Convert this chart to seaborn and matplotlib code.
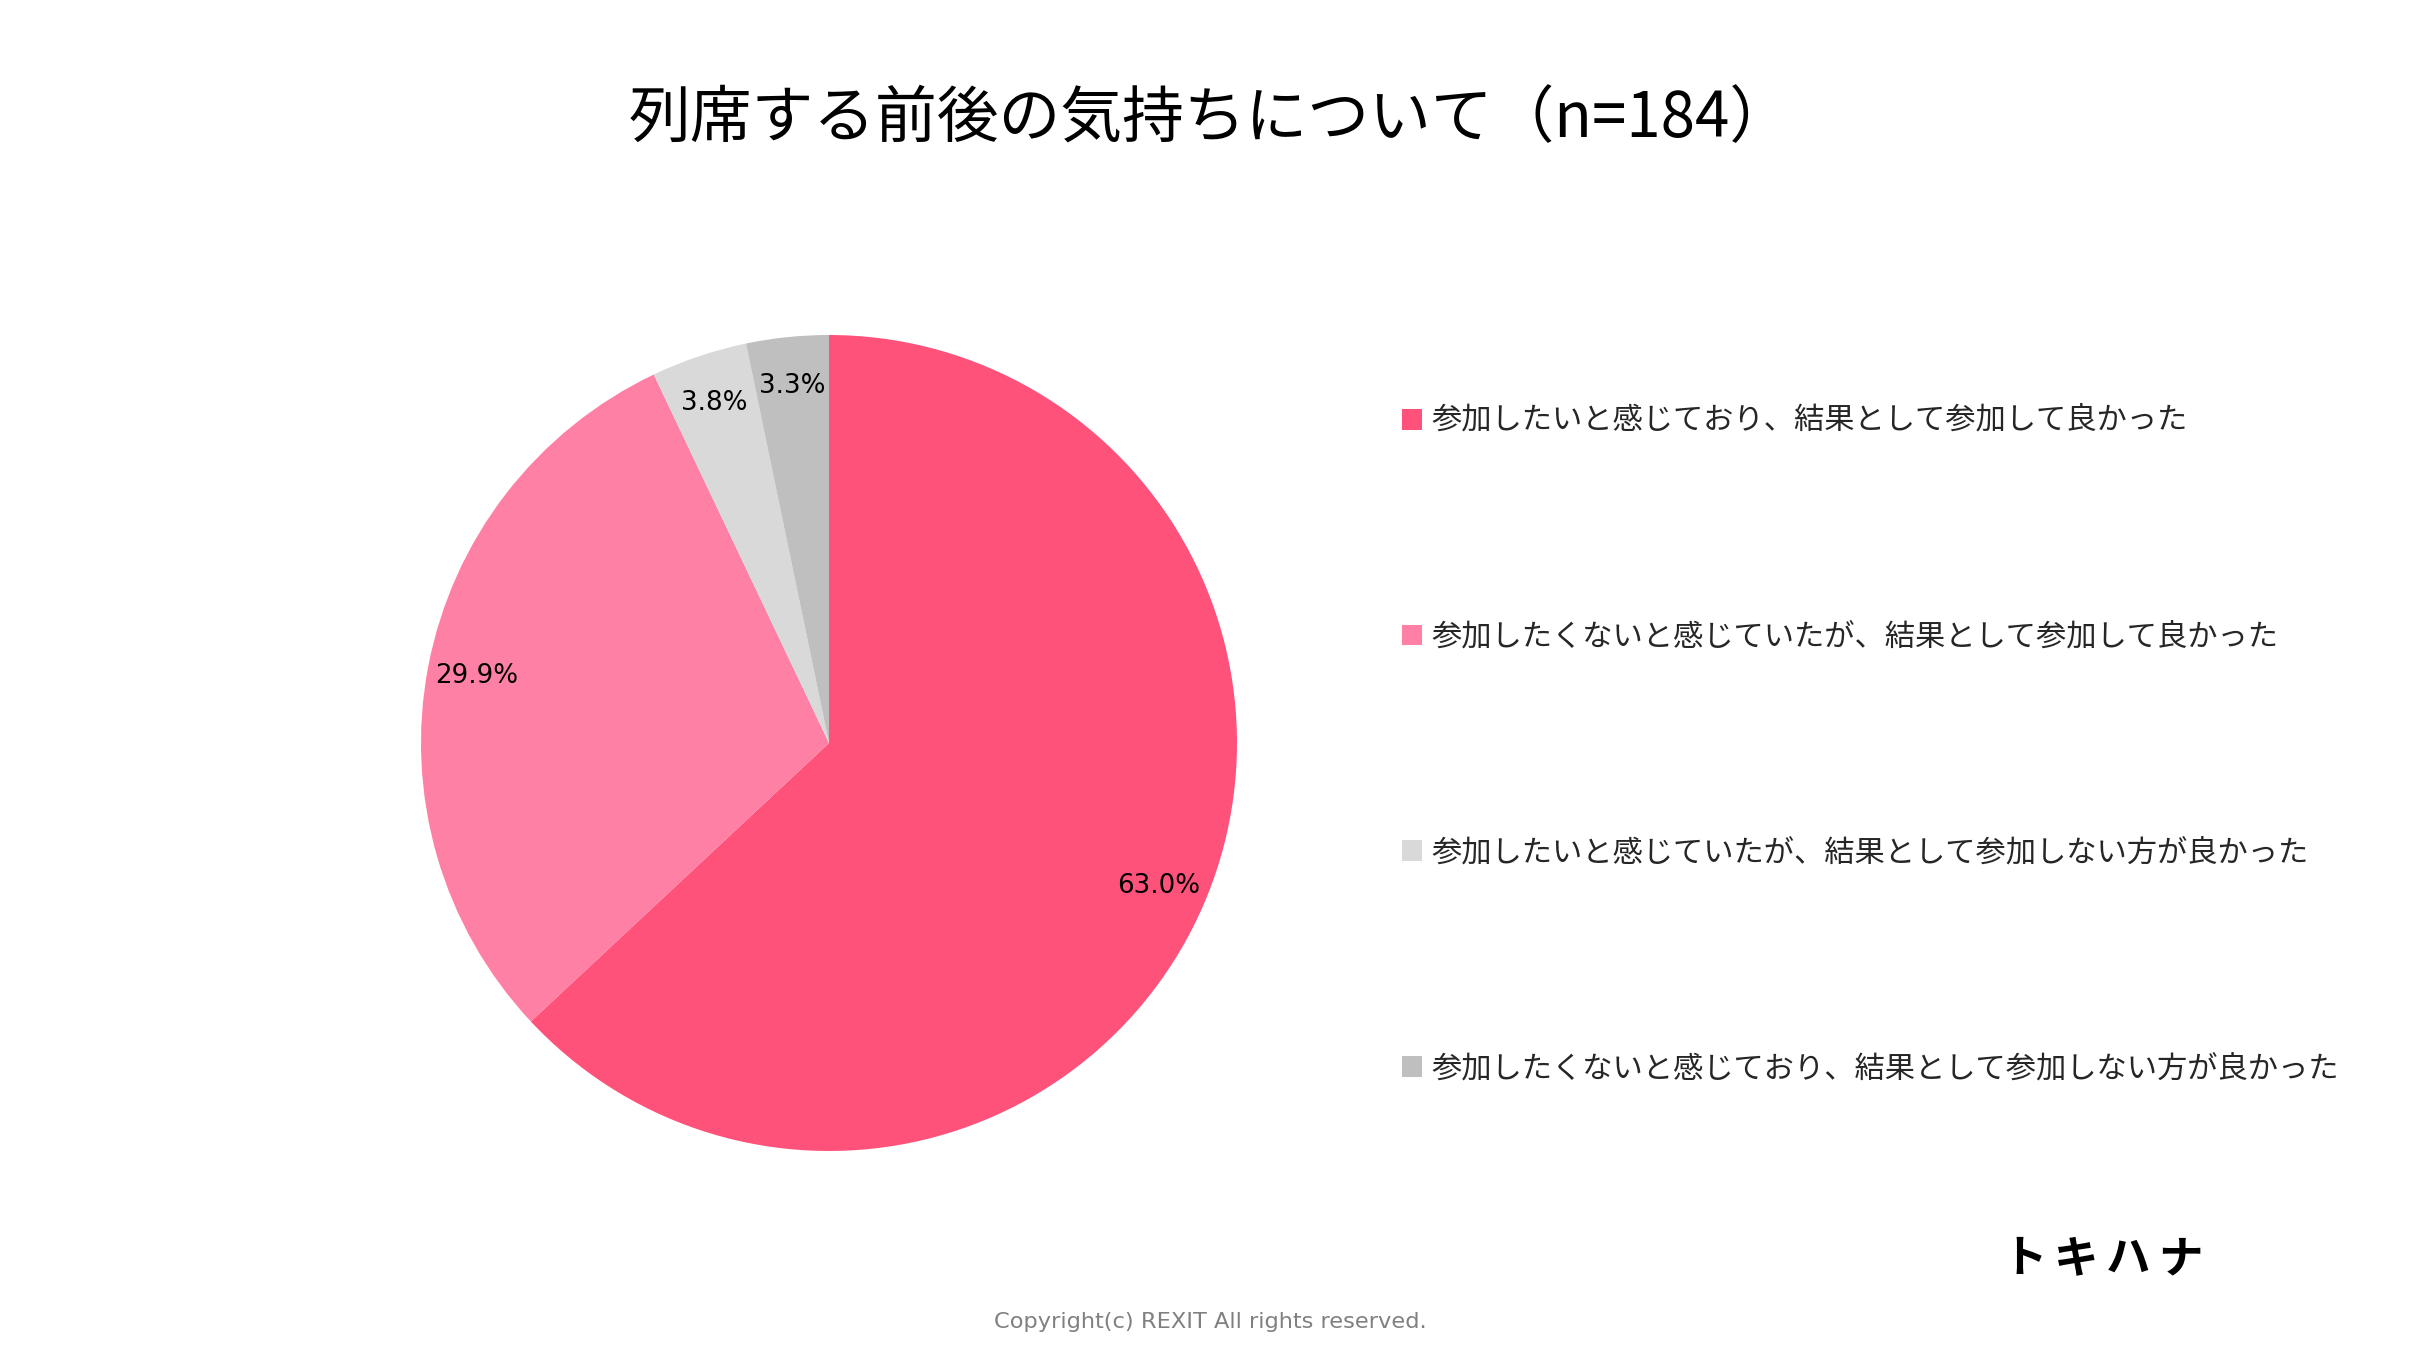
import matplotlib
matplotlib.use("Agg")
import matplotlib.pyplot as plt
import seaborn as sns

# ---- data ----
categories = [
    "参加したいと感じており、結果として参加して良かった",
    "参加したくないと感じていたが、結果として参加して良かった",
    "参加したいと感じていたが、結果として参加しない方が良かった",
    "参加したくないと感じており、結果として参加しない方が良かった",
]
counts = [116, 55, 7, 6]
colors = ["#FF527A", "#FF80A5", "#D9D9D9", "#BFBFBF"]
title = "列席する前後の気持ちについて（n=184）"
logo_chars = ["ト", "キ", "ハ", "ナ"]
copyright_text = "Copyright(c) REXIT All rights reserved."

sns.set_theme(style="white")
plt.rcParams['font.family'] = ['Noto Sans CJK JP', 'DejaVu Sans']

W, H = 2422, 1362
fig = plt.figure(figsize=(W / 100, H / 100), dpi=100)
fig.patch.set_facecolor("white")

cx, cy, r = 829, 743, 408
ax = fig.add_axes([(cx - r) / W, (H - cy - r) / H, 2 * r / W, 2 * r / H])
wedges, texts, autotexts = ax.pie(
    counts, colors=colors, startangle=90, counterclock=False,
    autopct='%.1f%%', pctdistance=0.88,
    textprops=dict(fontsize=18.8, family='DejaVu Sans', color='black'),
    wedgeprops=dict(linewidth=0),
)
ax.set_xlim(-1, 1)
ax.set_ylim(-1, 1)
ax.set_aspect('equal')
ax.axis('off')

fig.text(1210 / W, 1 - 119 / H, title, ha='center', va='center',
         fontsize=44.5, color='black')

fs = 21.8
leg = fig.legend(
    wedges, categories, loc='upper left',
    bbox_to_anchor=(1402 / W, 1 - 406 / H),
    frameon=False, fontsize=fs, handlelength=0.67, handleheight=0.67,
    handletextpad=0.3, labelspacing=6.1, borderpad=0, borderaxespad=0,
)

xs = [2025, 2076, 2128, 2180]
for ch, x in zip(logo_chars, xs):
    fig.text(x / W, 1 - 1259 / H, ch, ha='center', va='center',
             fontsize=32, fontweight='bold', color='black')

fig.text(1210 / W, 1 - 1322 / H, copyright_text, ha='center', va='center',
         fontsize=16.2, color='#808080', family='DejaVu Sans')

fig.savefig("out.png", dpi=100, facecolor="white")
